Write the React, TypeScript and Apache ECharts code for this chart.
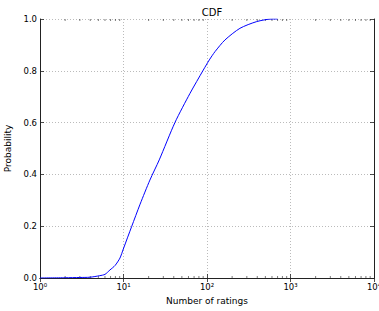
import React, { useEffect, useRef } from "react";
import * as echarts from "echarts";

const xValues = [1, 2, 3, 3.97, 5.2, 6.0, 6.88, 7.91, 9.07, 9.95, 12.5, 15.8, 20.7, 26.8, 41.4, 62.6, 90.3, 106.6, 124.7, 164, 248, 394, 596, 700];
const yValues = [0.0, 0.001, 0.002, 0.003, 0.009, 0.014, 0.031, 0.048, 0.077, 0.112, 0.198, 0.285, 0.378, 0.456, 0.601, 0.713, 0.803, 0.842, 0.874, 0.919, 0.964, 0.99, 1.0, 1.0];
const superscripts: Record<string, string> = { "0": "⁰", "1": "¹", "2": "²", "3": "³", "4": "⁴" };
const minorTickValues: number[] = [];
for (const d of [1, 10, 100, 1000]) {
  for (const m of [2, 3, 4, 5, 6, 7, 8, 9]) minorTickValues.push(d * m);
}

const FONT = "DejaVu Sans";

export default function App() {
  const ref = useRef<HTMLDivElement>(null);
  useEffect(() => {
    const chart = echarts.init(ref.current!, null, { renderer: "svg" });
    const axisLine = { show: true, lineStyle: { color: "#222", width: 1 } };
    const tickStyle = { show: true, inside: true, length: 4, lineStyle: { color: "#222", width: 0.8 } };
    const split = { show: true, lineStyle: { color: "#aaa", type: [1, 2] as any, width: 0.8 } };
    chart.setOption({
      animation: false,
      backgroundColor: "#fff",
      title: {
        text: "CDF",
        left: 207,
        textAlign: "center",
        top: 2,
        textStyle: { fontFamily: FONT, fontSize: 10, fontWeight: "normal", color: "#000" },
      },
      grid: { left: 40, right: 5, top: 19, bottom: 33, containLabel: false, outerBoundsMode: "none" },
      xAxis: [
        {
          type: "log",
          logBase: 10,
          min: 1,
          max: 10000,
          name: "Number of ratings",
          nameLocation: "middle",
          nameGap: 18,
          nameTextStyle: { fontFamily: FONT, fontSize: 9, color: "#000" },
          axisLine,
          axisTick: tickStyle,
          splitLine: split,
          axisLabel: {
            fontFamily: FONT,
            fontSize: 8.5,
            color: "#000",
            margin: 4,
            formatter: (v: number) => {
              const e = Math.round(Math.log10(v));
              return "10" + superscripts[String(e)];
            },
          },
        },
        {
          type: "log",
          logBase: 10,
          min: 1,
          max: 10000,
          position: "top",
          axisLine,
          axisTick: tickStyle,
          axisLabel: { show: false },
          splitLine: { show: false },
        },
      ],
      yAxis: [
        {
          type: "value",
          min: 0,
          max: 1,
          interval: 0.2,
          name: "Probability",
          nameLocation: "middle",
          nameGap: 22,
          nameTextStyle: { fontFamily: FONT, fontSize: 9, color: "#000" },
          axisLine,
          axisTick: tickStyle,
          splitLine: split,
          axisLabel: {
            fontFamily: FONT,
            fontSize: 8.5,
            color: "#000",
            margin: 3,
            formatter: (v: number) => v.toFixed(1),
          },
        },
        {
          type: "value",
          min: 0,
          max: 1,
          interval: 0.2,
          position: "right",
          axisLine,
          axisTick: tickStyle,
          axisLabel: { show: false },
          splitLine: { show: false },
        },
      ],
      series: [
        {
          type: "line",
          data: xValues.map((x, i) => [x, yValues[i]]),
          showSymbol: false,
          smooth: 0.25,
          lineStyle: { color: "#0000ff", width: 1 },
          z: 5,
        },
        {
          type: "custom",
          data: minorTickValues.map((v) => [v]),
          silent: true,
          z: 4,
          renderItem: (params: any, api: any) => {
            const x = api.value(0);
            const b = api.coord([x, 0]);
            const t = api.coord([x, 1]);
            const style = { stroke: "#222", lineWidth: 0.6 };
            return {
              type: "group",
              children: [
                { type: "line", shape: { x1: b[0], y1: b[1], x2: b[0], y2: b[1] - 2 }, style },
                { type: "line", shape: { x1: t[0], y1: t[1], x2: t[0], y2: t[1] + 2 }, style },
              ],
            };
          },
        },
      ],
    });
    return () => chart.dispose();
  }, []);
  return (
    <div
      ref={ref}
      style={{ position: "absolute", left: 0, top: 0, width: 379, height: 311, overflow: "hidden" }}
    />
  );
}
